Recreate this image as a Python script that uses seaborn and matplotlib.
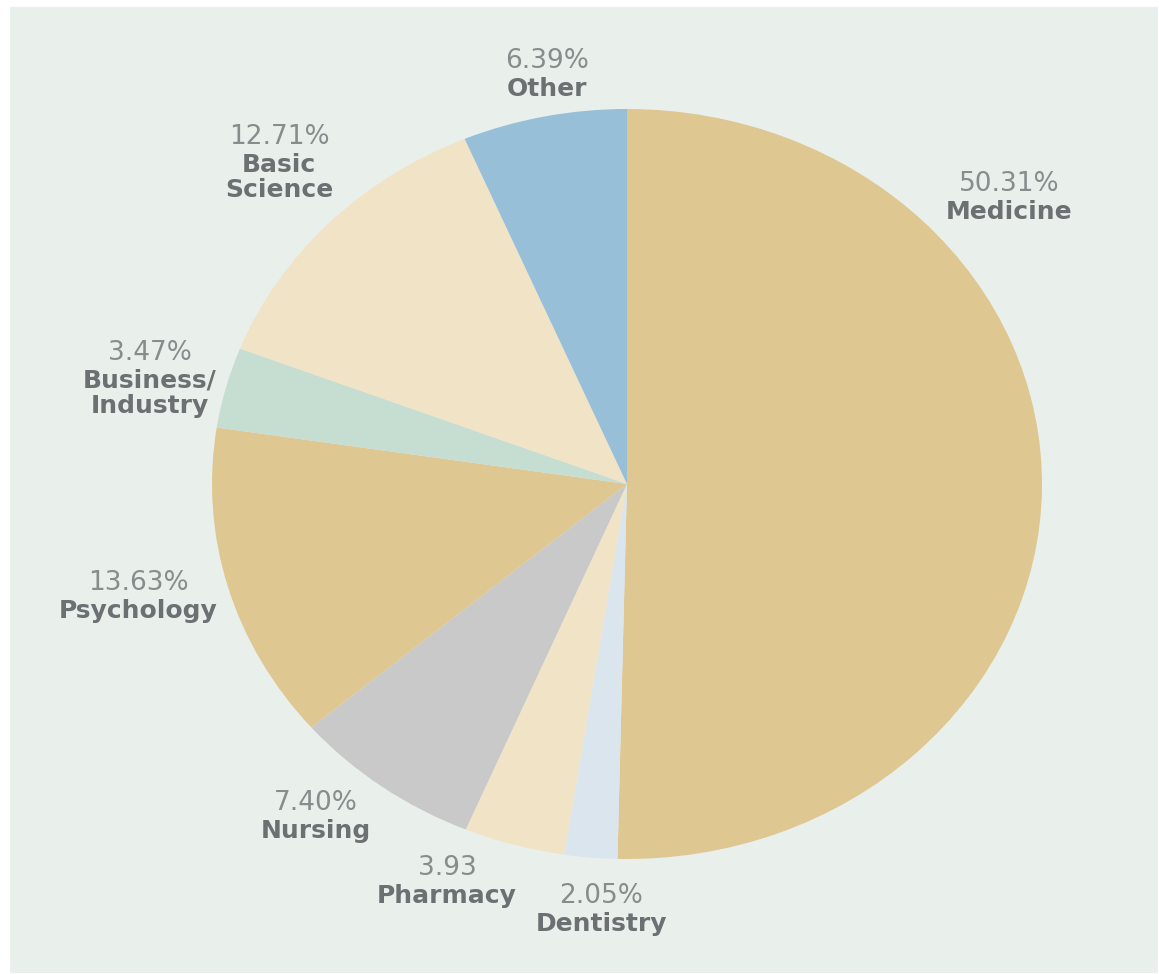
import matplotlib
matplotlib.use('Agg')
import matplotlib.pyplot as plt
from matplotlib.patches import Rectangle
import seaborn as sns

# Data
categories = ['Medicine', 'Dentistry', 'Pharmacy', 'Nursing', 'Psychology',
              'Business/\nIndustry', 'Basic\nScience', 'Other']
shares = [50.31, 2.05, 3.93, 7.40, 13.63, 3.47, 12.71, 6.39]
pct_labels = ['50.31%', '2.05%', '3.93', '7.40%', '13.63%', '3.47%', '12.71%', '6.39%']
colors = sns.color_palette(['#dfc791', '#dbe5ee', '#f1e3c6', '#c9c9c9',
                            '#dfc791', '#c6ddd1', '#f1e3c6', '#97bfd8'])

# label anchors in pixels (centre of the percent line)
label_pos = [(1009, 184), (601, 896), (447, 868), (316, 803),
             (138, 583), (150, 353), (279, 137), (547, 61)]

W, H = 1159, 974
sns.set_style('white')
plt.rcParams['font.family'] = ['DejaVu Sans']

fig = plt.figure(figsize=(W / 100, H / 100), dpi=100, facecolor='white')
fig.patches.append(Rectangle((10 / W, 1 / H), (W - 11) / W, (H - 8) / H,
                             transform=fig.transFigure, facecolor='#e9efeb',
                             edgecolor='none', zorder=-5))

ax = fig.add_axes([0, 0, 1, 1])
ax.set_zorder(1)
ax.set_facecolor('none')
ax.pie(shares, colors=colors, startangle=90, counterclock=False,
       wedgeprops=dict(linewidth=0))

# stretch the pie into the slightly wide ellipse of the original
cx, cy, rx, ry = 627, 484, 415, 375
ax.set_aspect('auto')
ax.set_xlim(-cx / rx, (W - cx) / rx)
ax.set_ylim(-(H - cy) / ry, cy / ry)
ax.axis('off')

for name, pct, (px, py) in zip(categories, pct_labels, label_pos):
    fig.text(px / W, 1 - py / H, pct, ha='center', va='center',
             fontsize=19, color='#878c8d', zorder=5)
    fig.text(px / W, 1 - (py + 16) / H, name, ha='center', va='top',
             fontsize=18, fontweight='bold', color='#6c7072', linespacing=1.05,
             zorder=5)

fig.savefig('out.png', dpi=100, facecolor='white')
